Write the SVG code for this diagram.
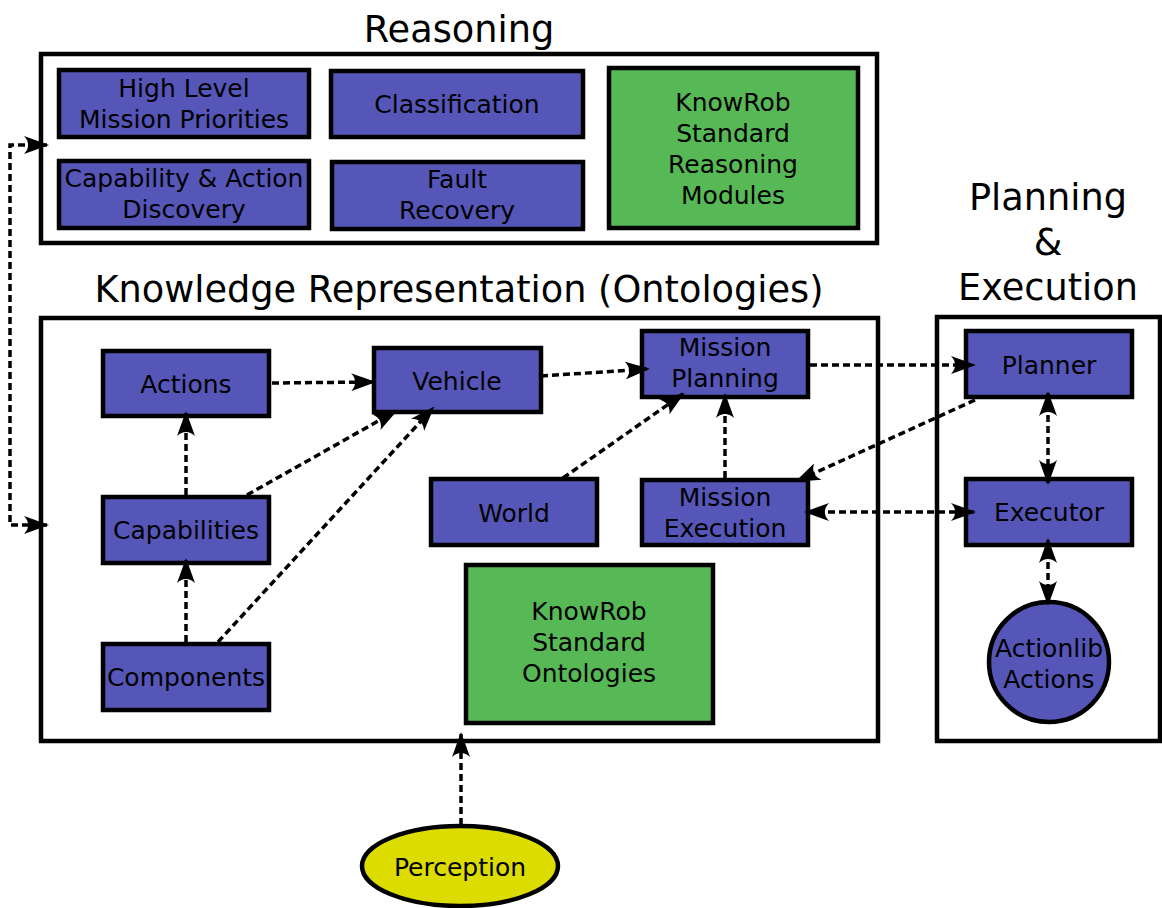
<svg xmlns="http://www.w3.org/2000/svg" width="1162" height="908" viewBox="0 0 1162 908">
  <style>
    .frame { fill: #ffffff; stroke: #000000; stroke-width: 4.5; }
    .blue { fill: #5656b9; stroke: #000000; stroke-width: 4.5; }
    .green { fill: #56b956; stroke: #000000; stroke-width: 4.5; }
    .yellow { fill: #dcdc00; stroke: #000000; stroke-width: 4.5; }
    .title { font-family: "DejaVu Sans", sans-serif; font-size: 36.7px; fill: #000000; text-anchor: middle; }
    .label { font-family: "DejaVu Sans", sans-serif; font-size: 25px; fill: #000000; text-anchor: middle; }
    .edge { fill: none; stroke: #000000; stroke-width: 3.5; stroke-dasharray: 7 4; }
    .one { marker-end: url(#arrow); }
    .both { marker-start: url(#arrow); marker-end: url(#arrow); }
  </style>
  <defs>
    <marker id="arrow" viewBox="0 0 25 18" refX="23" refY="9" markerWidth="25" markerHeight="18" markerUnits="userSpaceOnUse" orient="auto-start-reverse">
      <path d="M25,9 L0,0 C5.5,5.5 5.5,12.5 0,18 Z" fill="#000000"/>
    </marker>
  </defs>

  <rect width="1162" height="908" fill="#ffffff"/>

  <!-- Containers -->
  <g id="reasoning">
    <rect class="frame" x="41" y="54" width="836" height="189"/>
    <text class="title" x="459" y="42">Reasoning</text>
  </g>
  <g id="knowledge">
    <rect class="frame" x="41" y="318" width="837" height="423"/>
    <text class="title" x="459" y="302">Knowledge Representation (Ontologies)</text>
  </g>
  <g id="planning-execution">
    <rect class="frame" x="937" y="317" width="223" height="424"/>
    <text class="title" x="1048" y="210">Planning</text>
    <text class="title" x="1048" y="255">&amp;</text>
    <text class="title" x="1048" y="300">Execution</text>
  </g>

  <!-- Reasoning modules -->
  <g id="mission-priorities">
    <rect class="blue" x="59" y="70" width="250" height="67"/>
    <text class="label" x="184" y="97">High Level</text>
    <text class="label" x="184" y="128">Mission Priorities</text>
  </g>
  <g id="discovery">
    <rect class="blue" x="59" y="161" width="250" height="67"/>
    <text class="label" x="184" y="187">Capability &amp; Action</text>
    <text class="label" x="184" y="218">Discovery</text>
  </g>
  <g id="classification">
    <rect class="blue" x="331" y="71" width="252" height="66"/>
    <text class="label" x="457" y="113">Classification</text>
  </g>
  <g id="fault-recovery">
    <rect class="blue" x="332" y="162" width="251" height="67"/>
    <text class="label" x="457" y="188">Fault</text>
    <text class="label" x="457" y="219">Recovery</text>
  </g>
  <g id="knowrob-reasoning">
    <rect class="green" x="609" y="68" width="249" height="160"/>
    <text class="label" x="733" y="111">KnowRob</text>
    <text class="label" x="733" y="142">Standard</text>
    <text class="label" x="733" y="173">Reasoning</text>
    <text class="label" x="733" y="204">Modules</text>
  </g>

  <!-- Ontologies -->
  <g id="actions">
    <rect class="blue" x="103" y="351" width="166" height="65"/>
    <text class="label" x="186" y="393">Actions</text>
  </g>
  <g id="vehicle">
    <rect class="blue" x="374" y="348" width="167" height="64"/>
    <text class="label" x="457" y="390">Vehicle</text>
  </g>
  <g id="mission-planning">
    <rect class="blue" x="642" y="331" width="166" height="66"/>
    <text class="label" x="725" y="356">Mission</text>
    <text class="label" x="725" y="387">Planning</text>
  </g>
  <g id="world">
    <rect class="blue" x="431" y="479" width="166" height="66"/>
    <text class="label" x="514" y="522">World</text>
  </g>
  <g id="mission-execution">
    <rect class="blue" x="642" y="480" width="166" height="65"/>
    <text class="label" x="725" y="506">Mission</text>
    <text class="label" x="725" y="537">Execution</text>
  </g>
  <g id="capabilities">
    <rect class="blue" x="103" y="497" width="166" height="66"/>
    <text class="label" x="186" y="539">Capabilities</text>
  </g>
  <g id="components">
    <rect class="blue" x="103" y="644" width="166" height="66"/>
    <text class="label" x="186" y="686">Components</text>
  </g>
  <g id="knowrob-ontologies">
    <rect class="green" x="466" y="565" width="247" height="158"/>
    <text class="label" x="589" y="620">KnowRob</text>
    <text class="label" x="589" y="651">Standard</text>
    <text class="label" x="589" y="682">Ontologies</text>
  </g>

  <!-- Planning & execution -->
  <g id="planner">
    <rect class="blue" x="966" y="331" width="166" height="66"/>
    <text class="label" x="1049" y="374">Planner</text>
  </g>
  <g id="executor">
    <rect class="blue" x="966" y="479" width="166" height="66"/>
    <text class="label" x="1049" y="521">Executor</text>
  </g>
  <g id="actionlib">
    <circle class="blue" cx="1049" cy="662" r="60"/>
    <text class="label" x="1049" y="657">Actionlib</text>
    <text class="label" x="1049" y="688">Actions</text>
  </g>

  <!-- Perception -->
  <g id="perception">
    <ellipse class="yellow" cx="460" cy="866" rx="98" ry="40"/>
    <text class="label" x="460" y="876">Perception</text>
  </g>

  <!-- Connectors -->
  <g id="connectors">
    <path class="edge both" d="M47,145 L10,145 L10,525 L47,525"/>
    <path class="edge one" d="M272,383 L374,382"/>
    <path class="edge one" d="M541,376 L648,369"/>
    <path class="edge one" d="M810,365 L974,365"/>
    <path class="edge one" d="M975,400 L797,481"/>
    <path class="edge both" d="M806,512 L974,512"/>
    <path class="edge both" d="M1048,393 L1048,483"/>
    <path class="edge both" d="M1048,540 L1048,604"/>
    <path class="edge one" d="M725,478 L725,395"/>
    <path class="edge one" d="M563,478 L683,394"/>
    <path class="edge one" d="M186,495 L186,413"/>
    <path class="edge one" d="M247,495 L396,411"/>
    <path class="edge one" d="M186,642 L186,560"/>
    <path class="edge one" d="M218,642 L433,408"/>
    <path class="edge one" d="M461,825 L461,734"/>
  </g>
</svg>
